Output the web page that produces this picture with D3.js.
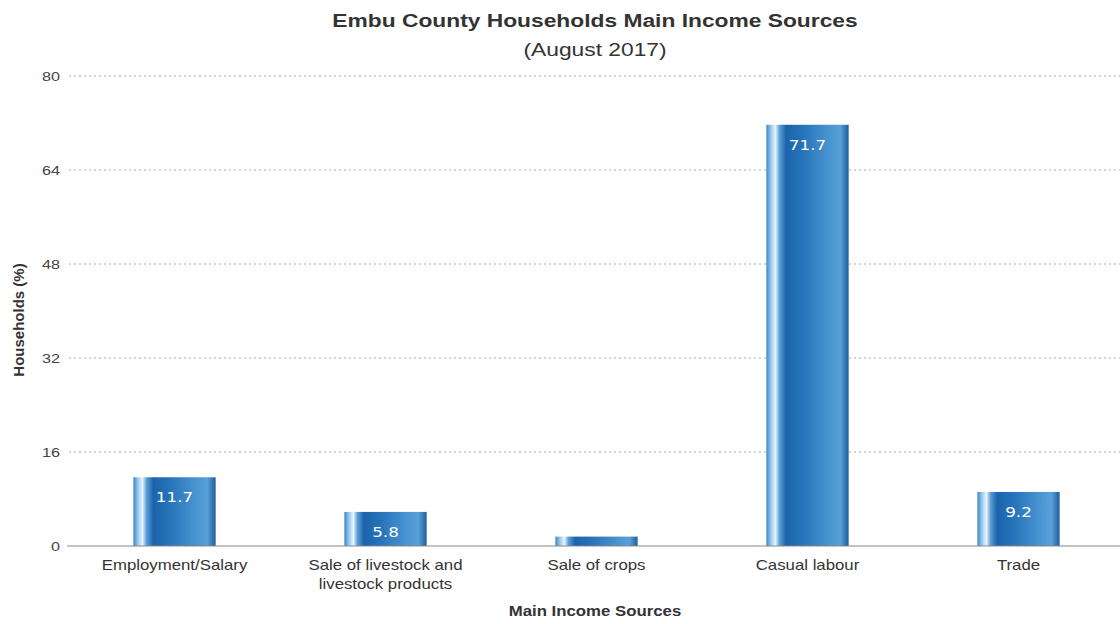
<!DOCTYPE html>
<html>
<head>
<meta charset="utf-8">
<script src="https://cdn.jsdelivr.net/npm/d3@7"></script>
<style>
  body { margin: 0; background: #fff; }
  svg { display: block; font-family: "Liberation Sans", Arial, sans-serif; }
</style>
</head>
<body>
<svg id="chart" width="1120" height="624"></svg>
<script>
const categories = ["Employment/Salary", "Sale of livestock and\nlivestock products", "Sale of crops", "Casual labour", "Trade"];
const values = [11.7, 5.8, 1.6, 71.7, 9.2];
const showLabel = [true, true, false, true, true];
const yTicks = [0, 16, 32, 48, 64, 80];

const svg = d3.select("#chart");
const margin = { left: 69, right: -4, top: 76, bottom: 78 };
const W = 1120, H = 624;
const SX = 1.2; // horizontal stretch of the lettering
const x = d3.scaleBand().domain(categories).range([margin.left, W - margin.right]).paddingInner(0.61).paddingOuter(0.305);
const y = d3.scaleLinear().domain([0, 80]).range([H - margin.bottom, margin.top]);

// text placed at (px, py) and widened horizontally
function label(parent, px, py, str) {
  return parent.append("text")
    .attr("transform", `translate(${px},${py}) scale(${SX},1)`)
    .text(str);
}

// bar gradient: highlight stripe near left edge, dark blue body shading lighter to the right
const defs = svg.append("defs");
const g = defs.append("linearGradient").attr("id", "barGrad").attr("x1", "0%").attr("x2", "100%");
[[0, "#3a86c8"], [0.06, "#9fcdef"], [0.11, "#e9f5fd"], [0.16, "#5b9fd6"], [0.24, "#1b64ab"], [0.45, "#2774ba"], [0.75, "#4893d0"], [0.9, "#58a0d8"], [1, "#1e5d9a"]]
  .forEach(([o, c]) => g.append("stop").attr("offset", o).attr("stop-color", c));

// gridlines
svg.append("g").selectAll("line").data(yTicks.filter(d => d > 0)).join("line")
  .attr("x1", margin.left).attr("x2", W).attr("y1", d => y(d)).attr("y2", d => y(d))
  .attr("stroke", "#aaa").attr("stroke-width", 1).attr("stroke-dasharray", "2,3");

// y axis tick labels
const yAxis = svg.append("g").attr("transform", `translate(${margin.left},0)`)
  .call(d3.axisLeft(y).tickValues(yTicks).tickSize(0).tickPadding(9));
yAxis.select(".domain").remove();
yAxis.selectAll(".tick text").attr("font-size", 13.5).attr("fill", "#444")
  .attr("font-family", "Liberation Sans, Arial, sans-serif")
  .attr("transform", `scale(${SX},1)`).attr("x", -9 / SX);

// bars
svg.append("g").selectAll("rect").data(values).join("rect")
  .attr("x", (d, i) => x(categories[i])).attr("width", x.bandwidth())
  .attr("y", d => y(d)).attr("height", d => y(0) - y(d))
  .attr("fill", "url(#barGrad)");

// value labels inside the bar tops
const valG = svg.append("g").attr("font-size", 14).attr("fill", "#fff")
  .attr("font-family", "DejaVu Sans, sans-serif").attr("text-anchor", "middle");
values.forEach((v, i) => {
  if (!showLabel[i]) return;
  label(valG, x(categories[i]) + x.bandwidth() / 2, y(v) + 25, v);
});

// x axis baseline and category labels
svg.append("line").attr("x1", margin.left - 2).attr("x2", W).attr("y1", y(0)).attr("y2", y(0))
  .attr("stroke", "#888").attr("stroke-width", 1.2);
const catG = svg.append("g").attr("font-size", 14).attr("fill", "#333").attr("text-anchor", "middle");
categories.forEach(c => {
  c.split("\n").forEach((t, k) => label(catG, x(c) + x.bandwidth() / 2, y(0) + 24 + k * 19, t));
});

// titles
label(svg, 595, 27, "Embu County Households Main Income Sources")
  .attr("text-anchor", "middle").attr("font-size", 19).attr("font-weight", "bold").attr("fill", "#333");
label(svg, 595, 56, "(August 2017)")
  .attr("text-anchor", "middle").attr("font-size", 19).attr("fill", "#333");
label(svg, 595, 616, "Main Income Sources")
  .attr("text-anchor", "middle").attr("font-size", 14).attr("font-weight", "bold").attr("fill", "#333");
svg.append("text").attr("transform", "translate(24,320) rotate(-90)").attr("text-anchor", "middle")
  .attr("font-size", 15).attr("font-weight", "bold").attr("fill", "#333").text("Households (%)");
</script>
</body>
</html>
